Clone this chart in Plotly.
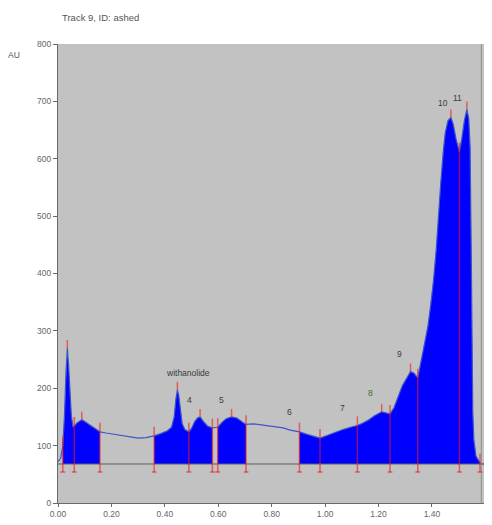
import plotly.graph_objects as go

# ---- data ----
rf = [0.000, 0.010, 0.018, 0.024, 0.030, 0.035, 0.040, 0.045, 0.050, 0.056,
      0.061, 0.070, 0.080, 0.089, 0.100, 0.115, 0.130, 0.145, 0.157, 0.180,
      0.210, 0.240, 0.270, 0.300, 0.330, 0.360, 0.385, 0.410, 0.425, 0.435,
      0.441, 0.447, 0.452, 0.458, 0.465, 0.475, 0.490, 0.500, 0.512, 0.522,
      0.532, 0.545, 0.560, 0.578, 0.598, 0.615, 0.630, 0.650, 0.670, 0.690,
      0.704, 0.730, 0.760, 0.800, 0.843, 0.870, 0.904, 0.930, 0.955, 0.981,
      1.010, 1.040, 1.067, 1.095, 1.121, 1.140, 1.160, 1.185, 1.212, 1.228,
      1.243, 1.258, 1.273, 1.290, 1.305, 1.320, 1.333, 1.347, 1.360, 1.370,
      1.385, 1.395, 1.406, 1.416, 1.424, 1.433, 1.443, 1.450, 1.460, 1.471,
      1.480, 1.490, 1.503, 1.512, 1.522, 1.531, 1.538, 1.543, 1.547, 1.550,
      1.553, 1.557, 1.565, 1.580, 1.590, 1.625]
au = [72, 78, 100, 150, 230, 270, 238, 188, 152, 133,
      134, 139, 143, 145, 142, 137, 132, 127, 124, 122,
      120, 117, 115, 113, 114, 117, 121, 126, 132, 150,
      180, 197, 188, 160, 138, 128, 124, 130, 142, 148,
      150, 142, 134, 131, 132, 141, 147, 150, 148, 141,
      137, 138, 136, 133, 131, 127, 124, 120, 116, 113,
      118, 124, 128, 132, 135, 139, 144, 152, 159, 157,
      155, 166, 185, 205, 217, 229, 226, 218, 248, 272,
      308, 343, 388, 441, 499, 557, 615, 645, 666, 672,
      660, 635, 612, 635, 668, 686, 670, 620, 450, 280,
      160, 110, 82, 70, 68, 68]

baseline_au = 68
marker_bottom_au = 54
regions = [(0.018, 0.157), (0.360, 0.578), (0.598, 0.704), (0.904, 1.580)]
boundary_rf = [0.018, 0.061, 0.157, 0.360, 0.490, 0.578, 0.598, 0.704,
               0.904, 0.981, 1.121, 1.243, 1.347, 1.503, 1.580]
peak_rf = [0.035, 0.089, 0.447, 0.532, 0.650, 1.212, 1.320, 1.471, 1.531]
peak_labels = ["withanolide", "4", "5", "6", "7", "8", "9", "10", "11"]
label_rf = [0.487, 0.492, 0.613, 0.866, 1.066, 1.169, 1.277, 1.441, 1.496]
label_au = [226, 179, 179, 158, 165, 192, 260, 697, 706]
label_colors = ["#3a3a3a", "#3a3a3a", "#3a3a3a", "#3a3a3a", "#3a3a3a",
                "#3d6b3d", "#3a3a3a", "#3a3a3a", "#3a3a3a"]
x_ticks = [0.0, 0.2, 0.4, 0.6, 0.8, 1.0, 1.2, 1.4, 1.6]
y_ticks = [0, 100, 200, 300, 400, 500, 600, 700, 800]
scan_end_rf = 1.585

lookup = dict(zip(rf, au))

fig = go.Figure()

# filled integration regions
for a, b in regions:
    xs = [x for x in rf if a <= x <= b]
    ys = [lookup[x] for x in xs]
    fig.add_trace(go.Scatter(
        x=[a] + xs + [b], y=[baseline_au] + ys + [baseline_au],
        fill="toself", fillcolor="#0000ff", mode="lines",
        line=dict(width=0, color="#0000ff"), hoverinfo="skip", showlegend=False))

# full curve line
fig.add_trace(go.Scatter(x=rf, y=au, mode="lines",
                         line=dict(color="#3c55c8", width=1.2),
                         showlegend=False, hoverinfo="skip"))

# baseline
fig.add_trace(go.Scatter(x=[rf[0], rf[-1]], y=[baseline_au, baseline_au],
                         mode="lines", line=dict(color="#5e5e5e", width=1),
                         showlegend=False, hoverinfo="skip"))

# end-of-scan vertical line
fig.add_trace(go.Scatter(x=[scan_end_rf, scan_end_rf], y=[0, 800], mode="lines",
                         line=dict(color="#8e8e8e", width=1),
                         showlegend=False, hoverinfo="skip"))

# red boundary markers
mx, my = [], []
for b in boundary_rf:
    top = lookup[b] + 16
    mx += [b, b, None, b - 0.009, b + 0.009, None]
    my += [marker_bottom_au, top, None, marker_bottom_au, marker_bottom_au, None]
for p in peak_rf:
    mx += [p, p, None]
    my += [lookup[p], lookup[p] + 14, None]
fig.add_trace(go.Scatter(x=mx, y=my, mode="lines",
                         line=dict(color="rgba(235,25,25,0.6)", width=1.5),
                         showlegend=False, hoverinfo="skip"))

FONT = "Liberation Sans"
# peak labels
for t, x, y, c in zip(peak_labels, label_rf, label_au, label_colors):
    fig.add_annotation(x=x, y=y, text=t, showarrow=False, xanchor="center",
                       font=dict(size=8.5, color=c, family=FONT))

# plot area geometry (page has an 8px body margin)
PL, PT, PW, PH = 50, 36, 434, 459
H = 517
# title and unit
fig.add_annotation(xref="paper", yref="paper", x=(100 - 58) / PW, y=1 + (44 - 18) / PH,
                   xanchor="center", yanchor="middle",
                   text="Track 9, ID: ashed", showarrow=False,
                   font=dict(size=9.5, color="#555", family=FONT))
fig.add_annotation(xref="paper", yref="paper", x=(14 - 58) / PW, y=(503 - 55) / PH,
                   xanchor="center", yanchor="middle",
                   text="AU", showarrow=False,
                   font=dict(size=8.5, color="#555", family=FONT))

fig.update_layout(
    width=484, height=H,
    margin=dict(l=PL, r=0, t=PT, b=H - PT - PH, autoexpand=False),
    paper_bgcolor="white", plot_bgcolor="#c2c2c2",
    font=dict(family=FONT, size=8, color="#555"),
    showlegend=False,
)
fig.update_xaxes(range=[0, 1.625], tickvals=x_ticks,
                 ticktext=[f"{v:.2f}" for v in x_ticks],
                 showgrid=False, zeroline=False, showline=True,
                 linecolor="#6a6a6a", linewidth=1, ticks="outside",
                 ticklen=3, tickcolor="#6a6a6a", tickfont=dict(size=8.5, color="#666"))
fig.update_yaxes(range=[0, 800], tickvals=y_ticks,
                 showgrid=False, zeroline=False, showline=True,
                 linecolor="#6a6a6a", linewidth=1, ticks="outside",
                 ticklen=4, tickcolor="#6a6a6a", tickfont=dict(size=8.5, color="#666"))

fig.write_html("out.html")
